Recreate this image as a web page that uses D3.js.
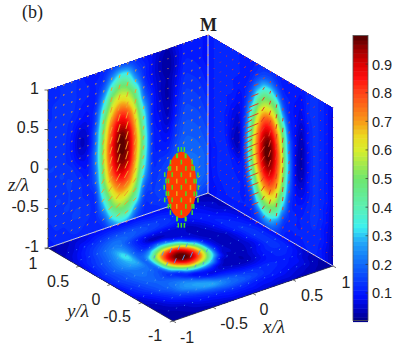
<!DOCTYPE html>
<html><head><meta charset="utf-8">
<style>html,body{margin:0;padding:0;background:#fff}svg{display:block}</style>
<script src="https://cdn.jsdelivr.net/npm/d3@7"></script></head>
<body><svg id="c" width="415" height="359"><defs><filter id="soft" x="-5%" y="-5%" width="110%" height="110%"><feGaussianBlur stdDeviation="0.3"/></filter></defs></svg>
<script>
const panelLabel="(b)", cornerLabel="M";
const ticks=[-1,-0.5,0,0.5,1];
const barTicks=[0.1,0.2,0.3,0.4,0.5,0.6,0.7,0.8,0.9];
const colorDomain=[0,0.03,0.09,0.2,0.28,0.33,0.4,0.5,0.6,0.65,0.7,0.8,0.85,0.9,0.95,1];
const colorRange=["#000080","#0000b0","#0010ff","#1068fa","#22a8f8","#3cf0f0","#5cf0b4","#6ee66e","#d8ee2c","#ecd820","#f89a18","#ff4418","#ff1010","#dd0000","#a00000","#500000"];
// rows z=1..-1 step .125, columns x=-1..1 step .1
const wallXZ=[
[.12,.12,.13,.13,.12,.1,.1,.12,.15,.18,.16,.13,.1,.08,.05,.03,.07,.1,.1,.1,.08],
[.12,.12,.13,.13,.12,.11,.11,.14,.24,.33,.31,.18,.12,.08,.04,.02,.06,.1,.1,.1,.08],
[.12,.13,.13,.13,.12,.11,.11,.2,.37,.47,.44,.27,.13,.08,.04,.02,.06,.11,.11,.1,.08],
[.12,.13,.13,.13,.11,.1,.12,.29,.5,.58,.55,.41,.17,.09,.05,.03,.07,.12,.12,.11,.09],
[.13,.13,.13,.12,.1,.09,.15,.38,.59,.69,.65,.49,.22,.11,.05,.03,.08,.13,.13,.12,.1],
[.13,.13,.13,.11,.07,.08,.17,.46,.68,.81,.77,.57,.3,.12,.06,.03,.09,.14,.14,.13,.11],
[.13,.13,.13,.1,.05,.07,.21,.51,.77,.9,.85,.63,.36,.12,.07,.04,.1,.15,.15,.14,.12],
[.13,.14,.13,.1,.05,.07,.22,.55,.81,.97,.92,.68,.39,.13,.08,.05,.11,.16,.16,.15,.13],
[.14,.14,.13,.11,.07,.09,.24,.57,.85,.99,.94,.71,.42,.14,.09,.07,.13,.17,.17,.16,.14],
[.14,.14,.14,.13,.1,.1,.24,.57,.84,.98,.94,.7,.42,.14,.1,.09,.14,.18,.18,.17,.15],
[.14,.14,.14,.14,.12,.11,.22,.54,.81,.95,.91,.67,.39,.14,.11,.11,.16,.19,.19,.18,.16],
[.14,.14,.14,.14,.13,.12,.2,.51,.75,.88,.83,.62,.35,.14,.13,.14,.17,.2,.2,.19,.17],
[.13,.14,.14,.14,.13,.12,.16,.45,.66,.78,.75,.56,.29,.14,.14,.16,.19,.21,.21,.2,.18],
[.13,.13,.14,.14,.14,.13,.14,.36,.57,.67,.63,.48,.21,.14,.15,.17,.2,.22,.22,.2,.18],
[.12,.13,.13,.14,.14,.13,.13,.27,.48,.56,.52,.38,.16,.14,.15,.17,.2,.22,.22,.2,.18],
[.11,.12,.12,.13,.13,.12,.12,.18,.35,.44,.41,.24,.13,.13,.14,.16,.19,.2,.2,.18,.16],
[.1,.11,.11,.12,.12,.11,.11,.13,.22,.3,.27,.16,.12,.11,.12,.14,.16,.17,.17,.15,.13]];
// rows z=1..-1 step .125, columns y=1..-1 step -.1
const wallYZ=[
[.1,.11,.12,.12,.12,.11,.1,.1,.12,.13,.13,.12,.1,.1,.1,.1,.12,.13,.12,.1,.08],
[.1,.11,.12,.12,.12,.11,.1,.11,.14,.18,.19,.15,.11,.1,.1,.09,.12,.13,.12,.1,.07],
[.1,.11,.12,.12,.12,.11,.1,.13,.22,.33,.34,.25,.14,.11,.09,.08,.12,.13,.12,.1,.07],
[.1,.11,.12,.12,.11,.1,.11,.18,.36,.48,.49,.41,.2,.11,.09,.07,.11,.13,.12,.1,.07],
[.1,.11,.12,.12,.11,.09,.12,.25,.49,.6,.61,.52,.3,.13,.09,.05,.1,.13,.12,.1,.07],
[.1,.11,.12,.11,.1,.08,.14,.36,.59,.74,.76,.62,.42,.16,.08,.04,.1,.13,.12,.1,.07],
[.1,.11,.12,.11,.08,.07,.16,.44,.67,.85,.86,.72,.49,.2,.08,.03,.09,.13,.12,.1,.07],
[.1,.11,.12,.1,.07,.06,.18,.48,.74,.93,.95,.78,.52,.22,.07,.03,.09,.13,.12,.1,.07],
[.09,.11,.12,.1,.06,.05,.19,.51,.77,.97,.98,.82,.55,.24,.07,.03,.09,.13,.12,.1,.07],
[.09,.11,.12,.1,.05,.05,.19,.51,.77,.965,.975,.81,.55,.24,.07,.04,.1,.13,.12,.1,.07],
[.09,.11,.12,.11,.07,.06,.18,.48,.73,.91,.93,.77,.51,.22,.08,.06,.1,.13,.12,.1,.06],
[.09,.1,.12,.12,.1,.09,.15,.43,.65,.82,.84,.7,.47,.19,.09,.08,.11,.13,.12,.09,.06],
[.09,.1,.12,.12,.11,.1,.14,.34,.57,.71,.73,.6,.39,.15,.1,.1,.12,.13,.12,.09,.05],
[.09,.1,.12,.12,.12,.11,.12,.24,.47,.59,.6,.51,.29,.13,.11,.11,.12,.13,.11,.08,.05],
[.08,.1,.11,.12,.12,.11,.11,.16,.34,.46,.47,.39,.18,.12,.11,.11,.12,.12,.11,.08,.04],
[.08,.09,.1,.11,.11,.11,.11,.12,.2,.29,.3,.22,.13,.11,.11,.11,.12,.12,.1,.07,.04],
[.07,.09,.1,.1,.11,.1,.1,.11,.13,.16,.17,.14,.11,.1,.1,.1,.11,.11,.1,.07,.04]];
// rows y=1..-1 step -.1, columns x=-1..1 step .1
const floorXY=[
[.02,.03,.04,.05,.06,.07,.08,.08,.08,.08,.08,.08,.08,.08,.07,.07,.06,.05,.04,.03,.02],
[.03,.04,.05,.07,.08,.1,.11,.12,.12,.12,.12,.12,.11,.11,.1,.09,.08,.07,.05,.04,.03],
[.04,.05,.07,.1,.12,.14,.16,.17,.17,.17,.16,.15,.14,.13,.12,.11,.09,.08,.06,.05,.04],
[.05,.07,.1,.13,.16,.19,.21,.2,.18,.16,.15,.14,.13,.12,.11,.1,.1,.09,.07,.05,.04],
[.06,.09,.12,.16,.2,.23,.22,.16,.11,.08,.07,.07,.07,.07,.06,.08,.1,.1,.08,.07,.05],
[.07,.11,.14,.18,.23,.29,.22,.14,.09,.05,.05,.05,.05,.05,.04,.06,.09,.11,.1,.08,.06],
[.08,.12,.16,.2,.26,.33,.2,.14,.15,.23,.22,.12,.07,.05,.04,.05,.08,.11,.11,.09,.06],
[.09,.13,.17,.22,.27,.3,.19,.25,.44,.55,.52,.41,.16,.07,.04,.04,.07,.11,.12,.1,.07],
[.1,.14,.18,.22,.26,.27,.2,.47,.72,.85,.85,.66,.4,.12,.05,.04,.05,.1,.13,.11,.08],
[.1,.14,.17,.2,.22,.22,.22,.56,.86,.99,.97,.8,.5,.15,.05,.04,.05,.09,.13,.12,.08],
[.1,.14,.17,.2,.21,.2,.21,.54,.81,.96,.95,.77,.47,.14,.05,.04,.05,.09,.13,.12,.08],
[.09,.13,.16,.19,.2,.18,.17,.39,.62,.76,.73,.58,.32,.08,.05,.04,.05,.08,.13,.12,.08],
[.08,.12,.15,.18,.19,.17,.13,.15,.34,.44,.41,.3,.1,.05,.04,.04,.06,.09,.13,.12,.08],
[.08,.11,.14,.17,.19,.2,.18,.12,.1,.14,.14,.08,.04,.04,.03,.05,.08,.11,.13,.12,.08],
[.06,.09,.12,.16,.19,.22,.24,.2,.12,.08,.07,.06,.05,.04,.04,.06,.09,.11,.12,.11,.07],
[.05,.07,.1,.13,.17,.23,.26,.27,.23,.16,.13,.11,.09,.08,.08,.09,.1,.11,.11,.09,.06],
[.04,.05,.08,.11,.14,.17,.22,.26,.28,.24,.2,.17,.14,.13,.12,.12,.11,.1,.09,.07,.05],
[.03,.04,.06,.08,.1,.12,.14,.17,.19,.2,.19,.18,.16,.14,.12,.11,.1,.09,.08,.05,.04],
[.02,.03,.04,.05,.07,.09,.1,.11,.12,.13,.13,.12,.11,.1,.1,.09,.08,.07,.06,.04,.03],
[.02,.02,.03,.04,.05,.06,.07,.08,.09,.09,.09,.09,.08,.08,.07,.07,.06,.05,.04,.03,.02],
[.02,.02,.02,.03,.03,.04,.05,.05,.06,.06,.06,.06,.06,.05,.05,.05,.04,.04,.03,.02,.02]];
// arrow factors (data units per unit field)
const leftArrowX=[-.03,-.03,-.03,-.03,-.03,-.03,-.03,-.03,-.03,-.03,-.04,-.05,-.06,-.07,-.08,-.09,-.09];
const leftArrowZ=[-.09,-.09,-.09,-.09,-.09,-.09,-.09,-.09,-.09,-.09,-.08,-.08,-.07,-.07,-.06,-.05,-.05];
const rightArrowY=[.02,.02,.03,.05,.08,.1,.15,.22,.28,.06,.03,.02,.02,.03,.03,.03,.03,.03,.02,.02,.02];
const rightArrowZ=[-.03,-.03,-.04,-.06,-.08,-.1,-.15,-.2,-.22,-.1,-.09,-.09,-.12,-.13,-.12,-.1,-.08,-.05,-.04,-.03,-.03];
const floorArrowX=[.08,.07];
// focal-spot iso-surface: centre and half-axes in data units
const spotCentre=[-0.06,0.07,-0.1], spotRadius=[0.15,0.42];
const spotLevels=[-.48,-.4,-.32,-.24,-.16,-.08,0,.08,.16,.24,.32,.4,.48];
const spotEdgeSpread=[1.18,.98,1.1,1.04,1.18,1.0,1.12,1.02,1.18,1.0,1.1,1.0,1.16];
const spotCore=[-.09,-.045,0,.045,.09];
const spotCoreColor=["#46e01e","#e8a818","#46e01e","#46e01e","#e8a818"];

const svg=d3.select("#c");
const sx=d3.scaleLinear([-1,1],[0,1]), sy=d3.scaleLinear([-1,1],[0,1]), sz=d3.scaleLinear([-1,1],[0,1]);
const project=(x,y,z)=>[173+160*sx(x)-125*sy(y), 321-55*sx(x)-73*sy(y)-158*sz(z)];
const colorCont=d3.scaleLinear(colorDomain,colorRange).clamp(true);
const nLevels=64;
const levels=d3.range(nLevels).map(i=>i/nLevels);
const color=v=>colorCont(Math.min(.9999,(Math.floor(v*nLevels)+.5)/nLevels));

function cr(p0,p1,p2,p3,t){return .5*((2*p1)+(-p0+p2)*t+(2*p0-5*p1+4*p2-p3)*t*t+(-p0+3*p1-3*p2+p3)*t*t*t);}
function smooth(g,f){
  const R=g.length,C=g[0].length,H=(R-1)*f+1,W=(C-1)*f+1,out=new Float64Array(W*H);
  const at=(r,c)=>g[Math.max(0,Math.min(R-1,r))][Math.max(0,Math.min(C-1,c))];
  for(let j=0;j<H;j++){const rr=Math.min(R-2,Math.floor(j/f)),tr=j/f-rr;
    for(let i=0;i<W;i++){const cc=Math.min(C-2,Math.floor(i/f)),tc=i/f-cc;
      const row=k=>cr(at(rr+k,cc-1),at(rr+k,cc),at(rr+k,cc+1),at(rr+k,cc+2),tc);
      out[j*W+i]=Math.max(0,Math.min(1,cr(row(-1),row(0),row(1),row(2),tr)));}}
  return {W,H,out};
}
function heat(g,map,corners){
  const gr=svg.append("g");
  gr.append("path").attr("d","M"+corners.join("L")+"Z").attr("fill",color(0));
  const {W,H,out}=smooth(g,6);
  const path=d3.geoPath(d3.geoTransform({point(cx,cy){
    const u=Math.max(0,Math.min(1,(cx-.5)/(W-1))),v=Math.max(0,Math.min(1,(cy-.5)/(H-1)));
    const p=map(u,v);this.stream.point(p[0],p[1]);}}));
  const cont=d3.contours().size([W,H]).thresholds(levels.slice(1))(out);
  gr.selectAll("path.b").data(cont).join("path").attr("class","b")
    .attr("d",path).attr("fill",d=>color(d.value+1e-6));
}
const U=d3.scaleLinear([0,1],[-1,1]), D=d3.scaleLinear([0,1],[1,-1]);
heat(wallXZ,(u,v)=>project(U(u),1,D(v)),[project(-1,1,1),project(1,1,1),project(1,1,-1),project(-1,1,-1)]);
heat(wallYZ,(u,v)=>project(1,D(u),D(v)),[project(1,1,1),project(1,-1,1),project(1,-1,-1),project(1,1,-1)]);
heat(floorXY,(u,v)=>project(U(u),D(v),-1),[project(-1,1,-1),project(1,1,-1),project(1,-1,-1),project(-1,-1,-1)]);

// corner lines
const line=d3.line();
svg.append("path").attr("d",line([project(1,1,1),project(1,1,-1)])).attr("stroke","#dfe8ff").attr("stroke-width",.9).attr("fill","none");
svg.append("path").attr("d",line([project(-1,1,-1),project(1,1,-1),project(1,-1,-1)])).attr("stroke","#dfe8ff").attr("stroke-width",.9).attr("fill","none");

// arrows
const arrows=svg.append("g").attr("fill","none").attr("stroke-linecap","round").attr("filter","url(#soft)");
const xsN=d3.range(21), zsN=d3.range(17);
function seg(a,b,col,w,op){arrows.append("path").attr("d",line([a,b])).attr("stroke",col).attr("stroke-width",w).attr("opacity",op);}
zsN.forEach(j=>{const z=D(j/16);xsN.forEach(i=>{const x=U(i/20),f=wallXZ[j][i];
  const a=project(x,1,z),b=project(x+f*leftArrowX[j],1,z+f*leftArrowZ[j]);
  seg(a,b,"#f0a028",1,f<.3?.9:1);
  const y=D(i/20),f2=wallYZ[j][i];
  const a2=project(1,y,z),b2=project(1,y+f2*rightArrowY[i],z+f2*rightArrowZ[i]);
  seg(a2,b2,"#e83c20",1,f2<.3?.9:1);
});});
d3.range(21).forEach(j=>{const y=D(j/20);xsN.forEach(i=>{if(j%2)return;const x=U(i/20),f=floorXY[j][i];
  seg(project(x,y,-1),project(x+f*floorArrowX[0],y+f*floorArrowX[1],-1),"#4f9cec",1,f<.3?.7:.95);
});});

// focal spot: iso-surface silhouette, with the quiver dashes on its rim and through its body
const [cx,cy,cz]=spotCentre,[rh,rv]=spotRadius;
const dirX=80/Math.hypot(80,62.5), dirY=-62.5/Math.hypot(80,62.5);
const pr=(rho,dz)=>project(cx+rho*dirX,cy+rho*dirY,cz+dz);
const c0=pr(0,0), ex=pr(rh,0), ez=pr(0,rv);
const spot=svg.append("g").attr("fill","none").attr("filter","url(#soft)");
spot.append("ellipse").attr("cx",c0[0]).attr("cy",c0[1]).attr("rx",Math.abs(ex[0]-c0[0])).attr("ry",Math.abs(ez[1]-c0[1])).attr("fill","#ff3a06").attr("stroke","none");
const dash=(rho,dz,col)=>spot.append("path").attr("d",line([pr(rho,dz),pr(rho,dz-.06)])).attr("stroke",col).attr("stroke-width",1.5);
spotLevels.forEach((dz,k)=>{
  const w2=1-(dz/rv)**2, half=w2>0?rh*Math.sqrt(w2):0;
  spotCore.forEach((rho,m)=>{ if(Math.abs(rho)<=half*.8&&(k+m)%2===0) dash(rho,dz,spotCoreColor[m]); });
  if(half>0){
    dash(-half*spotEdgeSpread[k],dz,"#46e01e"); dash(half*spotEdgeSpread[spotEdgeSpread.length-1-k],dz,"#46e01e");
    if(k%2){dash(-half*.86,dz,"#46e01e"); dash(half*.86,dz,"#46e01e");}
  } else { dash(-.03,dz,"#46e01e"); dash(.03,dz,"#46e01e"); }
});

// axes
const axis=svg.append("g").attr("stroke","#333").attr("fill","none").attr("stroke-width",.7);
axis.append("path").attr("d",line([project(-1,1,1),project(-1,1,-1)]));
axis.append("path").attr("d",line([project(-1,1,-1),project(-1,-1,-1),project(1,-1,-1)]));
const T=svg.append("g").attr("font-family","'Liberation Sans',Arial,sans-serif").attr("font-size",16).attr("fill","#222");
const zOff={x:-9,y:5.5};
ticks.forEach(t=>{
  const p=project(-1,1,t);axis.append("path").attr("d",line([p,[p[0]-3.5,p[1]]]));
  T.append("text").attr("x",p[0]+zOff.x).attr("y",p[1]+zOff.y-2).attr("text-anchor","end").text(t);
  const q=project(-1,t,-1);axis.append("path").attr("d",line([q,[q[0]-3.2,q[1]+1]]));
  const r=project(t,-1,-1);axis.append("path").attr("d",line([r,[r[0]+3,r[1]+1.7]]));
});
const yLab={"1":[33,268.5],"0.5":[58,286.5],"0":[96,304.5],"-0.5":[117,321.5],"-1":[155,340.5]};
const xLab={"-1":[187,342.5],"-0.5":[234,328.5],"0":[264,314.5],"0.5":[312,300.5],"1":[346,287.5]};
ticks.forEach(t=>{const a=yLab[t],b=xLab[t];
  T.append("text").attr("x",a[0]).attr("y",a[1]).attr("text-anchor","middle").text(t);
  T.append("text").attr("x",b[0]).attr("y",b[1]).attr("text-anchor","middle").text(t);});

const serif="'Liberation Serif','Times New Roman',serif";
const mkT=(x,y,s,str,o={})=>svg.append("text").attr("x",x).attr("y",y).attr("font-family",serif).attr("font-size",s).attr("fill","#222").attr("font-style",o.i?"italic":null).attr("font-weight",o.b?"bold":null).text(str);
mkT(22,18,18,panelLabel);
mkT(200,31,18,cornerLabel,{b:true});
mkT(8,191,19,"z/λ",{i:true});
mkT(67,317,19,"y/λ",{i:true});
mkT(263,333,19,"x/λ",{i:true});

// colourbar
const barY=d3.scaleLinear([0,1],[321.6,35.5]);
const bar=svg.append("g");
levels.forEach(v=>bar.append("rect").attr("x",353).attr("width",15).attr("y",barY(v+1/nLevels)).attr("height",barY(v)-barY(v+1/nLevels)+.5).attr("fill",color(v+.001)));
bar.append("rect").attr("x",353).attr("y",35.5).attr("width",15).attr("height",285).attr("fill","none").attr("stroke","#555").attr("stroke-width",.8);
barTicks.forEach(t=>{
  bar.append("path").attr("d",line([[365.5,barY(t)],[368,barY(t)]])).attr("stroke","#333").attr("stroke-width",.7);
  bar.append("text").attr("x",372).attr("y",barY(t)+5.5).attr("font-family","'Liberation Sans',Arial,sans-serif").attr("font-size",14.5).attr("fill","#222").text(t);
});
</script></body></html>
